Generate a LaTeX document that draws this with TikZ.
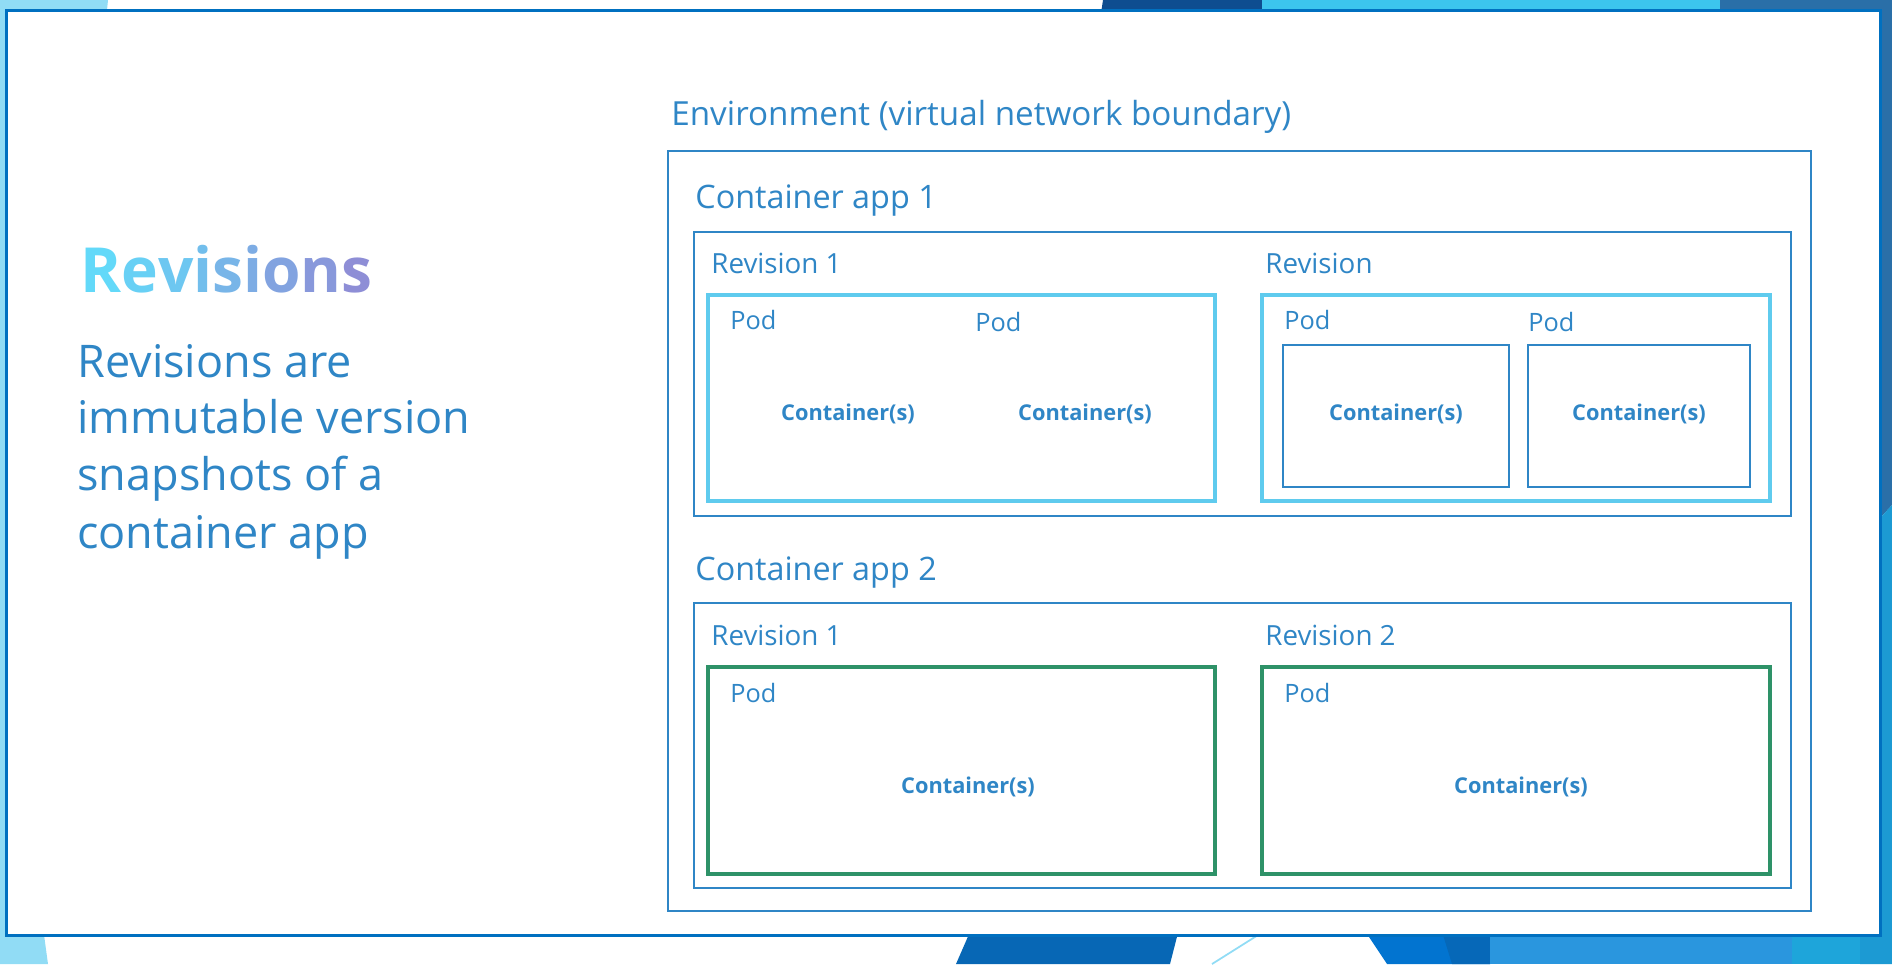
\documentclass[tikz,border=0pt]{standalone}
\usepackage{fontspec}
\setmainfont{Open Sans}
\usepackage{tikz}

\definecolor{txtblue}{HTML}{2F86C6}
\definecolor{frameblue}{HTML}{0070C0}
\definecolor{podcyan}{HTML}{5FCBEE}
\definecolor{podgreen}{HTML}{2E9268}
\definecolor{skyblue}{HTML}{91DCF5}
\definecolor{navyblue}{HTML}{0E4D90}
\definecolor{brightcyan}{HTML}{3CC5EE}
\definecolor{steelblue}{HTML}{2A6FA8}
\definecolor{oceanblue}{HTML}{1C9AD3}
\definecolor{deepblue}{HTML}{0767B5}
\definecolor{royalblue}{HTML}{0274D0}
\definecolor{midblue}{HTML}{2A96DE}
\definecolor{tealblue}{HTML}{1EA5DA}
\definecolor{revA}{HTML}{63D9F9}
\definecolor{revB}{HTML}{8E8ED6}

\tikzset{
	lbl/.style={text=txtblue,inner sep=0pt,anchor=base west},
	ctr/.style={text=txtblue,inner sep=0pt,anchor=base,font=\fontsize{12.4}{15}\selectfont\bfseries},
	thinbox/.style={draw=txtblue,line width=1.1pt},
	cyanbox/.style={draw=podcyan,line width=2.8pt},
	greenbox/.style={draw=podgreen,line width=2.8pt}
}

\begin{document}
\begin{tikzpicture}[x=0.02cm,y=-0.02cm]
	\useasboundingbox (0,0) rectangle (1892,964);

	\fill[skyblue] (0,0)--(108,0)--(105,30)--(30,30)--(30,920)--(42,920)--(48,964)--(0,964)--cycle;
	\fill[navyblue] (1103,0)--(1262,0)--(1262,20)--(1100,20)--cycle;
	\fill[brightcyan] (1262,0)--(1720,0)--(1720,20)--(1262,20)--cycle;
	\fill[steelblue] (1720,0)--(1892,0)--(1892,505)--(1860,540)--(1860,20)--(1720,20)--cycle;
	\fill[oceanblue] (1860,540)--(1892,505)--(1892,964)--(1860,964)--cycle;
	\fill[deepblue] (973,925)--(1180,925)--(1170,964)--(956,964)--cycle;
	\draw[skyblue,line width=1pt] (1266,930)--(1212,964);
	\fill[royalblue] (1361,925)--(1490,925)--(1490,964)--(1387,964)--cycle;
	\fill[deepblue!90!royalblue] (1440,925)--(1490,925)--(1490,964)--(1452,964)--cycle;
	\fill[midblue] (1490,925)--(1792,925)--(1792,964)--(1490,964)--cycle;
	\fill[tealblue] (1792,925)--(1860,925)--(1860,964)--(1792,964)--cycle;

	\draw[frameblue,fill=white,line width=1.7pt] (6.5,10.5) rectangle (1880.5,935.5);

	\node[lbl,font=\fontsize{35.4}{40}\selectfont\bfseries] (title) at (80,292) {\textcolor{revA!100!revB}{R}\textcolor{revA!88!revB}{e}\textcolor{revA!76!revB}{v}\textcolor{revA!64!revB}{i}\textcolor{revA!52!revB}{s}\textcolor{revA!40!revB}{i}\textcolor{revA!28!revB}{o}\textcolor{revA!14!revB}{n}\textcolor{revA!0!revB}{s}};
	\node[lbl,font=\fontsize{25.6}{30}\selectfont] (body1) at (77,377) {Revisions are};
	\node[lbl,font=\fontsize{25.6}{30}\selectfont] (body2) at (77,433) {immutable version};
	\node[lbl,font=\fontsize{25.6}{30}\selectfont] (body3) at (77,490) {snapshots of a};
	\node[lbl,font=\fontsize{25.6}{30}\selectfont] (body4) at (77,548) {container app};

	\node[lbl,font=\fontsize{18.9}{23}\selectfont] (env) at (671,125) {Environment (virtual network boundary)};
	\draw[thinbox] (668,151) rectangle (1811,911);

	\node[lbl,font=\fontsize{18.4}{22}\selectfont] (app1) at (695,208) {Container app 1};
	\draw[thinbox] (694,232) rectangle (1791,516);
	\node[lbl,font=\fontsize{15.8}{19}\selectfont] (rev11) at (711,273) {Revision 1};
	\node[lbl,font=\fontsize{15.8}{19}\selectfont] (rev12) at (1265,273) {Revision};
	\draw[cyanbox] (708,295) rectangle (1215,501);
	\draw[cyanbox] (1262,295) rectangle (1770,501);
	\node[lbl,font=\fontsize{14.4}{17}\selectfont] (pod11) at (730,329) {Pod};
	\node[lbl,font=\fontsize{14.4}{17}\selectfont] (pod12) at (975,331) {Pod};
	\node[lbl,font=\fontsize{14.4}{17}\selectfont] (pod13) at (1284,329) {Pod};
	\node[lbl,font=\fontsize{14.4}{17}\selectfont] (pod14) at (1528,331) {Pod};
	\draw[thinbox] (1283,345) rectangle (1509,487);
	\draw[thinbox] (1528,345) rectangle (1750,487);
	\node[ctr] (box11) at (848,420) {Container(s)};
	\node[ctr] (box12) at (1085,420) {Container(s)};
	\node[ctr] (box13) at (1396,420) {Container(s)};
	\node[ctr] (box14) at (1639,420) {Container(s)};

	\node[lbl,font=\fontsize{18.4}{22}\selectfont] (app2) at (695,580) {Container app 2};
	\draw[thinbox] (694,603) rectangle (1791,888);
	\node[lbl,font=\fontsize{15.8}{19}\selectfont] (rev21) at (711,645) {Revision 1};
	\node[lbl,font=\fontsize{15.8}{19}\selectfont] (rev22) at (1265,645) {Revision 2};
	\draw[greenbox] (708,667) rectangle (1215,874);
	\draw[greenbox] (1262,667) rectangle (1770,874);
	\node[lbl,font=\fontsize{14.4}{17}\selectfont] (pod21) at (730,702) {Pod};
	\node[lbl,font=\fontsize{14.4}{17}\selectfont] (pod22) at (1284,702) {Pod};
	\node[ctr] (box21) at (968,793) {Container(s)};
	\node[ctr] (box22) at (1521,793) {Container(s)};
\end{tikzpicture}
\end{document}
